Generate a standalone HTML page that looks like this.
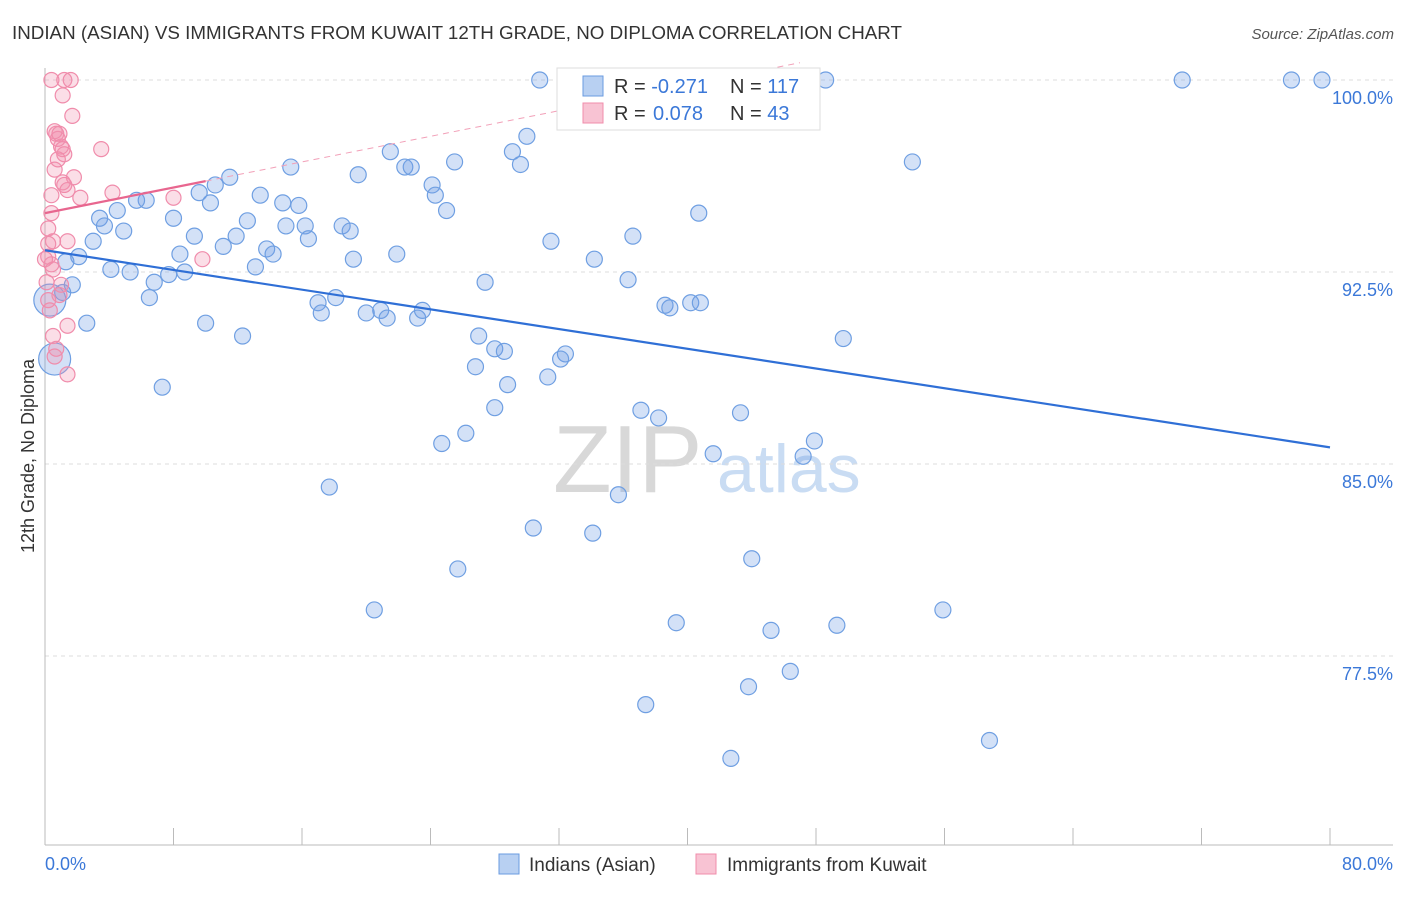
<!DOCTYPE html>
<html><head><meta charset="utf-8"><style>
body{margin:0;background:#fff;font-family:"Liberation Sans",sans-serif}
svg text{font-family:"Liberation Sans",sans-serif}
</style></head><body>
<svg width="1406" height="892" viewBox="0 0 1406 892">
<text x="12" y="39" font-size="18" fill="#333" textLength="890" lengthAdjust="spacingAndGlyphs">INDIAN (ASIAN) VS IMMIGRANTS FROM KUWAIT 12TH GRADE, NO DIPLOMA CORRELATION CHART</text>
<text x="1394" y="39" font-size="15" fill="#555" text-anchor="end" font-style="italic">Source: ZipAtlas.com</text>
<g>
<text x="553" y="492" font-size="96" fill="#d8d8d8" font-family="Liberation Serif">ZIP</text>
<text x="717" y="492" font-size="68" fill="#c9dcf3">atlas</text>
</g>
<g id="grid"></g>
<g id="axes"></g>
<text transform="translate(34,456) rotate(-90)" font-size="18" fill="#333" text-anchor="middle">12th Grade, No Diploma</text>
<g id="pts"></g>
<g id="trend"></g>
<g>
<rect x="557" y="68" width="263" height="62" fill="#fff" stroke="#ddd"/>
<rect x="583" y="76" width="20" height="20" fill="#b8d0f2" stroke="#6a9be0"/>
<rect x="583" y="103" width="20" height="20" fill="#f8c3d3" stroke="#f08cab"/>
<text x="614" y="93" font-size="20" fill="#333">R = <tspan fill="#3b78d8">-0.271</tspan><tspan x="730">N = </tspan><tspan fill="#3b78d8">117</tspan></text>
<text x="614" y="120" font-size="20" fill="#333">R = <tspan x="653" fill="#3b78d8">0.078</tspan><tspan x="730">N = </tspan><tspan fill="#3b78d8"> 43</tspan></text>
</g>
<g>
<rect x="499" y="854" width="20" height="20" fill="#b8d0f2" stroke="#6a9be0"/>
<text x="529" y="871" font-size="19" fill="#333">Indians (Asian)</text>
<rect x="696" y="854" width="20" height="20" fill="#f8c3d3" stroke="#f08cab"/>
<text x="727" y="871" font-size="19" fill="#333">Immigrants from Kuwait</text>
</g>
</svg>
<script>
const blueX=[30.8,46.7,48.6,70.8,77.6,79.5,30.0,21.5,29.1,29.6,22.4,22.8,25.5,19.5,15.3,54.0,11.5,10.6,9.6,13.4,24.1,24.3,6.3,5.7,4.5,10.3,14.8,15.8,25.0,40.7,3.4,8.0,12.6,3.7,4.9,16.2,18.5,19.0,15.0,3.0,9.3,11.9,11.1,16.4,13.8,14.2,31.5,36.6,8.4,2.1,1.3,21.9,19.2,34.2,4.1,5.3,6.8,8.7,7.7,13.1,27.4,36.3,1.7,1.1,6.5,17.0,18.1,17.2,20.0,20.9,21.3,23.2,23.5,38.6,38.9,40.2,40.8,2.6,10.0,12.3,27.0,49.7,28.0,28.6,32.4,32.1,26.8,28.8,31.3,7.3,0.6,37.1,28.0,43.3,38.2,26.2,24.7,47.9,41.6,47.2,17.7,35.7,30.4,34.1,25.7,44.0,20.5,55.9,39.3,45.2,49.3,46.4,43.8,37.4,58.8,42.7,0.3];
const blueY=[100,100,100,100,100,100,97.8,97.2,97.2,96.7,96.6,96.6,96.8,96.3,96.6,96.8,96.2,95.9,95.6,95.5,95.9,95.5,95.3,95.3,94.9,95.2,95.2,95.1,94.9,94.8,94.6,94.6,94.5,94.3,94.1,94.3,94.3,94.1,94.3,93.7,93.9,93.9,93.5,93.8,93.4,93.2,93.7,93.9,93.2,93.1,92.9,93.2,93.0,93.0,92.6,92.5,92.1,92.5,92.4,92.7,92.1,92.2,92.0,91.7,91.5,91.3,91.5,90.9,90.9,91.0,90.7,90.7,91.0,91.2,91.1,91.3,91.3,90.5,90.5,90.0,90.0,89.9,89.5,89.4,89.3,89.1,88.8,88.1,88.4,88.0,89.1,87.1,87.2,87.0,86.8,86.2,85.8,85.9,85.4,85.3,84.1,83.8,82.5,82.3,80.9,81.3,79.3,79.3,78.8,78.5,78.7,76.9,76.3,75.6,74.2,73.5,91.4];
const pinkX=[0.4,1.2,1.6,1.1,1.7,0.7,0.8,3.5,1.0,1.2,1.1,0.6,1.8,1.1,1.4,4.2,0.4,2.2,8.0,0.4,0.2,0.5,1.4,0.2,0.4,0.5,0.1,1.0,0.9,0.2,9.8,1.4,0.5,0.7,0.6,1.4,0.3,0.6,0.9,0.2,0.8,0.0,1.2];
const pinkY=[100,100,100,99.4,98.6,97.9,97.7,97.3,97.4,97.1,97.3,96.5,96.2,96.0,95.7,95.6,95.5,95.4,95.4,94.8,94.2,93.7,93.7,93.1,92.8,92.6,92.1,92.0,91.6,91.4,93.0,90.4,90.0,89.5,89.2,88.5,91.0,98.0,97.9,93.6,96.9,93.0,95.9];
const yTicks=[100,92.5,85,77.5];
const yTickLabels=["100.0%","92.5%","85.0%","77.5%"];
const xTicks=[0,8,16,24,32,40,48,56,64,72,80];
const blueTrend=[93.35,85.65];
const pinkTrend=[94.8,96.05,10,47];
const X=v=>45+v*16.0625, Y=v=>80+(100-v)*25.6;
const NS="http://www.w3.org/2000/svg";
function mk(t,a,p){const e=document.createElementNS(NS,t);for(const k in a)e.setAttribute(k,a[k]);p.appendChild(e);return e;}
const grid=document.getElementById('grid'),axes=document.getElementById('axes'),pts=document.getElementById('pts'),tr=document.getElementById('trend');
yTicks.forEach((v,i)=>{
 const l=mk('line',{x1:45,x2:1393,y1:Y(v),y2:Y(v),stroke:'#ddd','stroke-dasharray':'4,4'},grid);
 
 
 const t=mk('text',{x:1393,y:Y(v)+24,'font-size':18,fill:'#3b78d8','text-anchor':'end'},axes);
 t.textContent=yTickLabels[i];
 
 
});
let a=mk('line',{x1:45,x2:45,y1:68,y2:845,stroke:'#bbb'},axes);


a=mk('line',{x1:45,x2:1393,y1:845,y2:845,stroke:'#bbb'},axes);


xTicks.forEach(v=>{const l=mk('line',{x1:X(v),x2:X(v),y1:828,y2:845,stroke:'#bbb'},axes);
 
 });
let t=mk('text',{x:45,y:870,'font-size':18,fill:'#3b78d8'},axes);t.textContent='0.0%';


t=mk('text',{x:1393,y:870,'font-size':18,fill:'#3b78d8','text-anchor':'end'},axes);t.textContent='80.0%';


blueX.forEach((x,i)=>{const big=(i>=blueX.length-1||i===90);
 const c=mk('circle',{cx:X(x),cy:Y(blueY[i]),r:big?16:8,fill:'rgba(110,155,230,0.3)',stroke:'#6f9fe2','stroke-width':1.2},pts);
 
 });
pinkX.forEach((x,i)=>{const c=mk('circle',{cx:X(x),cy:Y(pinkY[i]),r:7.5,fill:'rgba(242,145,175,0.3)',stroke:'#f08cab','stroke-width':1.2},pts);
 
 });
let l=mk('line',{x1:X(0),y1:Y(blueTrend[0]),x2:X(80),y2:Y(blueTrend[1]),stroke:'#2f6fd6','stroke-width':2.2},tr);


const slope=(pinkTrend[1]-pinkTrend[0])/pinkTrend[2];
l=mk('line',{x1:X(pinkTrend[2]),y1:Y(pinkTrend[1]),x2:X(pinkTrend[3]),y2:Y(pinkTrend[0]+slope*pinkTrend[3]),stroke:'#f2a0b8','stroke-width':1,'stroke-dasharray':'6,5'},tr);


l=mk('line',{x1:X(0),y1:Y(pinkTrend[0]),x2:X(pinkTrend[2]),y2:Y(pinkTrend[1]),stroke:'#e8668f','stroke-width':2.2},tr);


</script>
</body></html>
